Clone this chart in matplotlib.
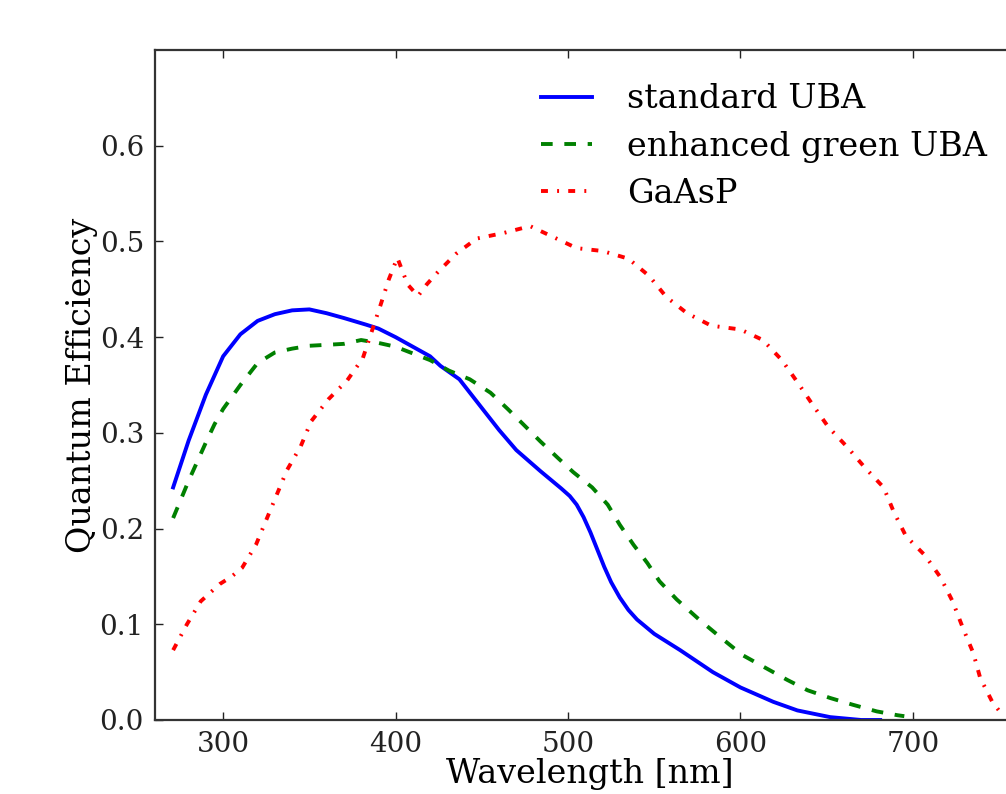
import matplotlib
matplotlib.use("Agg")
import matplotlib.pyplot as plt

plt.rcParams['font.family'] = 'DejaVu Serif'
plt.rcParams['lines.scale_dashes'] = False

# standard UBA photocathode
wl_std = [271, 280, 290, 300, 310, 320, 330, 340, 350, 360, 370, 383, 390, 400,
          410, 420, 426, 437, 450, 460, 470, 484, 490, 496, 501, 505, 509, 513,
          517, 521, 525, 530, 535, 540, 550, 565, 584, 600, 619, 633, 652, 670, 681]
qe_std = [0.243, 0.292, 0.340, 0.380, 0.403, 0.417, 0.424, 0.428, 0.429, 0.425,
          0.420, 0.413, 0.409, 0.400, 0.390, 0.380, 0.370, 0.356, 0.326, 0.303,
          0.282, 0.260, 0.251, 0.242, 0.234, 0.225, 0.212, 0.196, 0.178, 0.160,
          0.144, 0.128, 0.115, 0.105, 0.090, 0.073, 0.050, 0.034, 0.019, 0.010,
          0.003, 0.000, 0.000]

# enhanced green UBA
wl_grn = [271, 280, 290, 295, 300, 310, 320, 330, 340, 350, 360, 370, 380, 390,
          400, 410, 420, 431, 443, 455, 465, 474, 484, 494, 503, 514, 523, 530,
          538, 546, 553, 563, 576, 588, 601, 615, 627, 639, 652, 665, 679, 691, 695]
qe_grn = [0.211, 0.250, 0.290, 0.309, 0.325, 0.350, 0.373, 0.384, 0.388, 0.391,
          0.392, 0.393, 0.397, 0.394, 0.390, 0.383, 0.376, 0.365, 0.356, 0.342,
          0.325, 0.309, 0.291, 0.274, 0.259, 0.243, 0.225, 0.204, 0.183, 0.164,
          0.145, 0.126, 0.105, 0.087, 0.068, 0.054, 0.042, 0.031, 0.023, 0.016,
          0.009, 0.005, 0.004]

# GaAsP
wl_gaasp = [271, 279, 287, 298, 305, 311, 319, 325, 331, 337, 345, 351, 361, 372,
            381, 386, 391, 396, 401, 407, 413, 418, 424, 435, 447, 463, 478, 491,
            505, 520, 535, 547, 557, 569, 583, 600, 613, 624, 633, 642, 651, 662,
            672, 683, 689, 696, 707, 716, 723, 729, 735, 739, 746, 752]
qe_gaasp = [0.073, 0.100, 0.124, 0.142, 0.150, 0.159, 0.183, 0.209, 0.235, 0.261,
            0.286, 0.312, 0.335, 0.355, 0.378, 0.405, 0.432, 0.460, 0.483, 0.455,
            0.443, 0.455, 0.467, 0.487, 0.503, 0.509, 0.516, 0.505, 0.493, 0.490,
            0.482, 0.464, 0.442, 0.425, 0.412, 0.408, 0.397, 0.376, 0.353, 0.329,
            0.306, 0.285, 0.264, 0.243, 0.217, 0.192, 0.172, 0.149, 0.124, 0.096,
            0.070, 0.044, 0.019, 0.005]

fig = plt.figure(figsize=(10.06, 7.94), dpi=100)
# axes run a little past the right edge of the figure
ax = fig.add_axes([0.1541, 0.0932, 1.0189 - 0.1541, 0.9370 - 0.0932])

ax.plot(wl_std, qe_std, color='b', lw=2.8, label='standard UBA')
ax.plot(wl_grn, qe_grn, color='g', lw=2.8, dashes=(8.4, 8.4),
        label='enhanced green UBA')
ax.plot(wl_gaasp, qe_gaasp, color='r', lw=2.8, dashes=(5.0, 6.6, 1.4, 6.6),
        label='GaAsP')

ax.set_xlim(260.5, 765)
ax.set_ylim(0, 0.7)
ax.set_xticks([300, 400, 500, 600, 700])
ax.set_yticks([0.0, 0.1, 0.2, 0.3, 0.4, 0.5, 0.6])
ax.set_yticklabels(['0.0', '0.1', '0.2', '0.3', '0.4', '0.5', '0.6'])

for s in ax.spines.values():
    s.set_linewidth(1.6)
    s.set_color('#333333')
ax.tick_params(direction='in', length=6, width=1, labelsize=20, pad=8,
               top=True, right=True, colors='#222222')

ax.set_xlabel('Wavelength [nm]', fontsize=24, labelpad=0)
ax.set_ylabel('Quantum Efficiency', fontsize=24, labelpad=1)

ax.legend(loc='upper left', bbox_to_anchor=(0.409, 0.995), frameon=False,
          fontsize=24, handlelength=1.53, handletextpad=1.05, labelspacing=0.46)

fig.savefig('out.png', dpi=100)
